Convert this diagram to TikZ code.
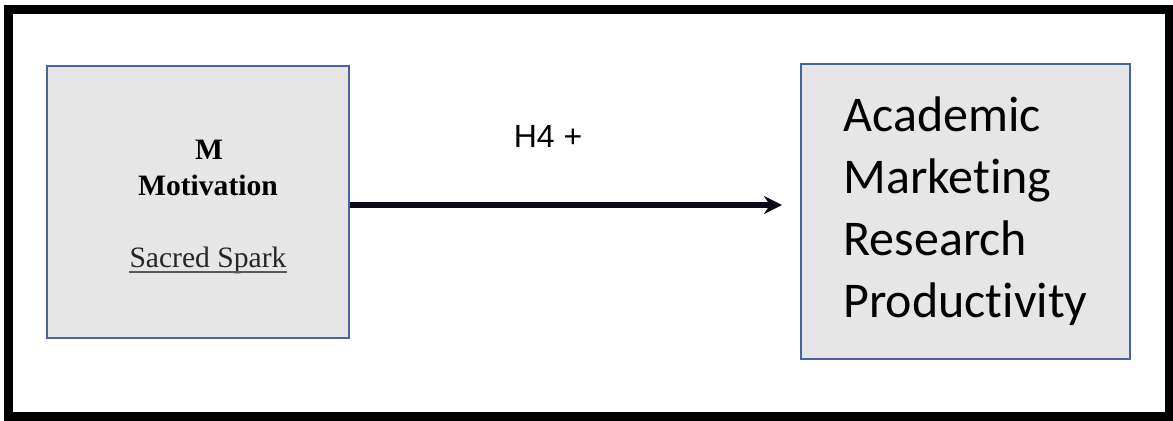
\documentclass[tikz,border=0pt]{standalone}
\usepackage{fontspec}
\usepackage{xcolor}
\usetikzlibrary{arrows.meta, positioning}
\newfontfamily\timesfont{Liberation Serif}
\newfontfamily\calibrifont[Ligatures=NoCommon]{Carlito}
\newfontfamily\arialfont{Liberation Sans}
\definecolor{boxgray}{RGB}{230,230,230}
\definecolor{boxblue}{RGB}{72,100,160}
\definecolor{arrownavy}{RGB}{8,10,24}

\begin{document}
\begin{tikzpicture}[
    x=0.5pt, y=-0.5pt,
    varbox/.style={rectangle, draw=boxblue, line width=0.75pt, fill=boxgray, align=left},
    serifbold/.style={inner sep=0pt, anchor=base, font=\timesfont\fontsize{14.8}{18}\selectfont\bfseries},
    arrow/.style={-{Stealth[length=9pt, width=9pt]}, line width=3pt, draw=arrownavy}
]
\useasboundingbox (0,0) rectangle (1173,420);

% Outer frame
\draw[line width=4.5pt] (8,9) rectangle (1169,416);

% Motivation box
\node[varbox, minimum width=151pt, minimum height=136pt] (mot) at (198,202) {};
\node[serifbold] (mletter) at (209,159) {M};
\node[serifbold] (mname) at (208,195) {Motivation};
\node[serifbold, font=\timesfont\fontsize{14.8}{18}\selectfont, text=black!85] (mspark) at (208,267) {Sacred Spark};
\draw[line width=0.8pt, black!65] ([yshift=-2.6pt]mspark.base west) -- ([yshift=-2.6pt]mspark.base east);

% Productivity box
\node[varbox, minimum width=164.5pt, minimum height=147.5pt,
      font=\calibrifont\fontsize{25}{31}\selectfont] (amrp) at (965.5,211.5)
      {Academic\\Marketing\\Research\\Productivity};

% Hypothesis arrow
\coordinate (tip) at (782,205);
\draw[arrow] (mot.east |- tip) -- (tip);
\node[inner sep=0pt, anchor=base, font=\arialfont\fontsize{16}{19}\selectfont] (h4) at (548,147) {H4 +};

\end{tikzpicture}
\end{document}
